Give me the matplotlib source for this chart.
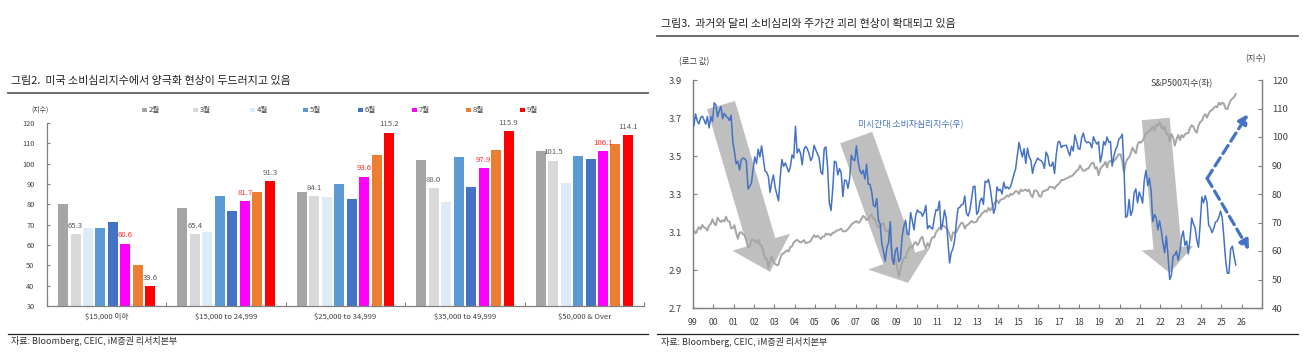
import numpy as np
import matplotlib
matplotlib.use("Agg")
import matplotlib.pyplot as plt
from matplotlib.patches import Polygon, Rectangle
from matplotlib.lines import Line2D

plt.rcParams['font.family'] = ['Noto Sans CJK KR', 'DejaVu Sans']

W, H = 1307, 358

# ---------------- Left chart data ----------------
income_groups = ["$15,000 이하", "$15,000 to 24,999", "$25,000 to 34,999",
                 "$35,000 to 49,999", "$50,000 & Over"]
month_names = ["2월", "3월", "4월", "5월", "6월", "7월", "8월", "9월"]
feb = [80.0, 78.1, 86.3, 101.9, 106.0]
mar = [65.3, 65.4, 84.1, 88.0, 101.5]
apr = [68.3, 66.6, 83.5, 81.1, 90.7]
may = [68.5, 84.2, 90.1, 103.5, 104.0]
jun = [71.1, 76.9, 82.7, 88.3, 102.3]
jul = [60.6, 81.7, 93.6, 97.9, 106.1]
aug = [50.0, 86.3, 104.4, 106.8, 109.8]
sep = [39.6, 91.3, 115.2, 115.9, 114.1]
month_colors = ["#A5A5A5", "#D9D9D9", "#DDEBF7", "#5B9BD5",
                "#4472C4", "#FF00FF", "#ED7D31", "#FF0000"]
left_yticks = list(range(30, 121, 10))

# ---------------- Right chart data ----------------
years = list(range(1999, 2027))
year_labels = [f"{y % 100:02d}" for y in years]
right_left_ticks = [2.7, 2.9, 3.1, 3.3, 3.5, 3.7, 3.9]
right_right_ticks = list(range(40, 121, 10))

# University of Michigan consumer sentiment, monthly from 1999-01
sentiment = [
    103.9, 108.1, 105.7, 104.6, 106.8, 107.3, 106.0, 104.5, 107.2, 103.2, 107.2, 105.4,
    112.0, 111.3, 107.1, 109.2, 110.7, 106.4, 108.3, 107.3, 106.8, 105.8, 107.6, 98.4,
    94.7, 90.6, 91.5, 88.4, 92.0, 92.6, 92.4, 91.5, 81.8, 82.7, 83.9, 88.8,
    93.0, 90.7, 95.7, 93.0, 96.9, 92.4, 88.1, 87.6, 86.1, 80.6, 84.2, 86.7,
    82.4, 79.9, 77.6, 86.0, 92.1, 89.7, 90.9, 89.3, 87.7, 89.6, 93.7, 92.6,
    103.8, 94.4, 95.8, 94.2, 90.2, 95.6, 96.7, 95.9, 94.2, 91.7, 92.8, 97.1,
    95.5, 94.1, 92.6, 87.7, 86.9, 96.0, 96.5, 89.1, 76.9, 74.2, 81.6, 91.5,
    91.2, 86.7, 88.9, 87.4, 79.1, 84.9, 84.7, 82.0, 85.4, 93.6, 92.1, 91.7,
    96.9, 91.3, 88.4, 87.1, 88.3, 85.3, 90.4, 83.4, 83.4, 80.9, 76.1, 75.5,
    78.4, 70.8, 69.5, 62.6, 59.8, 56.4, 61.2, 63.0, 70.3, 57.6, 55.3, 60.1,
    61.2, 56.3, 57.3, 65.1, 68.7, 70.8, 66.0, 65.7, 73.5, 70.6, 67.4, 72.5,
    74.4, 73.6, 73.6, 72.2, 73.6, 76.0, 67.8, 68.9, 68.2, 67.7, 71.6, 74.5,
    74.2, 77.5, 67.5, 69.8, 74.3, 71.5, 63.7, 55.8, 59.5, 60.8, 63.7, 69.9,
    75.0, 75.3, 76.2, 76.4, 79.3, 73.2, 72.3, 74.3, 78.3, 82.6, 82.7, 72.9,
    73.8, 77.6, 78.6, 76.4, 84.5, 84.1, 85.1, 82.1, 77.5, 73.2, 75.1, 82.5,
    81.2, 81.6, 80.0, 84.1, 81.9, 82.5, 81.8, 82.5, 84.6, 86.9, 88.8, 93.6,
    98.1, 95.4, 93.0, 95.9, 90.7, 96.1, 93.1, 91.9, 87.2, 90.0, 91.3, 92.6,
    92.0, 91.7, 91.0, 89.0, 94.7, 93.5, 90.0, 89.8, 91.2, 87.2, 93.8, 98.2,
    98.5, 96.3, 96.9, 97.0, 97.1, 95.1, 93.4, 96.8, 95.1, 100.7, 98.5, 95.9,
    95.7, 99.7, 101.4, 98.8, 98.0, 98.2, 97.9, 96.2, 100.1, 98.6, 97.5, 98.3,
    91.2, 93.8, 98.4, 97.2, 100.0, 98.2, 98.4, 89.8, 93.2, 95.5, 96.8, 99.3,
    99.8, 101.0, 89.1, 71.8, 72.3, 78.1, 72.5, 74.1, 80.4, 81.8, 76.9, 80.7,
    79.0, 76.8, 84.9, 88.3, 82.9, 85.5, 81.2, 70.3, 72.8, 71.7, 67.4, 70.6,
    67.2, 62.8, 59.4, 65.2, 58.4, 50.0, 51.5, 58.2, 58.6, 59.9, 56.8, 59.7,
    64.9, 67.0, 62.0, 63.5, 59.0, 64.4, 71.6, 69.5, 68.1, 63.8, 61.3, 69.7,
    79.0, 76.9, 79.4, 77.2, 69.1, 68.2, 66.4, 67.9, 70.1, 70.5, 71.8, 74.0,
    71.7, 64.7, 57.0, 52.2, 52.2, 60.7, 61.7, 58.2, 55.1,
]

# S&P 500 month-end level, from 1999-01
sp500 = [
    1279.6, 1238.3, 1286.4, 1335.2, 1301.8, 1372.7, 1328.7, 1320.4, 1282.7, 1362.9, 1388.9, 1469.3,
    1394.5, 1366.4, 1498.6, 1452.4, 1420.6, 1454.6, 1430.8, 1517.7, 1436.5, 1429.4, 1315.2, 1320.3,
    1366.0, 1239.9, 1160.3, 1249.5, 1255.8, 1224.4, 1211.2, 1133.6, 1040.9, 1059.8, 1139.5, 1148.1,
    1130.2, 1106.7, 1147.4, 1076.9, 1067.1, 989.8, 911.6, 916.1, 815.3, 885.8, 936.3, 879.8,
    855.7, 841.2, 848.2, 916.9, 963.6, 974.5, 990.3, 1008.0, 996.0, 1050.7, 1058.2, 1111.9,
    1131.1, 1144.9, 1126.2, 1107.3, 1120.7, 1140.8, 1101.7, 1104.2, 1114.6, 1130.2, 1173.8, 1211.9,
    1181.3, 1203.6, 1180.6, 1156.9, 1191.5, 1191.3, 1234.2, 1220.3, 1228.8, 1207.0, 1249.5, 1248.3,
    1280.1, 1280.7, 1294.9, 1310.6, 1270.1, 1270.2, 1276.7, 1303.8, 1335.9, 1377.9, 1400.6, 1418.3,
    1438.2, 1406.8, 1420.9, 1482.4, 1530.6, 1503.4, 1455.3, 1474.0, 1526.8, 1549.4, 1481.1, 1468.4,
    1378.6, 1330.6, 1322.7, 1385.6, 1400.4, 1280.0, 1267.4, 1282.8, 1166.4, 968.8, 896.2, 903.3,
    825.9, 735.1, 797.9, 872.8, 919.1, 919.3, 987.5, 1020.6, 1057.1, 1036.2, 1095.6, 1115.1,
    1073.9, 1104.5, 1169.4, 1186.7, 1089.4, 1030.7, 1101.6, 1049.3, 1141.2, 1183.3, 1180.6, 1257.6,
    1286.1, 1327.2, 1325.8, 1363.6, 1345.2, 1320.6, 1292.3, 1218.9, 1131.4, 1253.3, 1247.0, 1257.6,
    1312.4, 1365.7, 1408.5, 1397.9, 1310.3, 1362.2, 1379.3, 1406.6, 1440.7, 1412.2, 1416.2, 1426.2,
    1498.1, 1514.7, 1569.2, 1597.6, 1630.7, 1606.3, 1685.7, 1633.0, 1681.6, 1756.5, 1805.8, 1848.4,
    1782.6, 1859.5, 1872.3, 1883.9, 1923.6, 1960.2, 1930.7, 2003.4, 1972.3, 2018.1, 2067.6, 2058.9,
    1995.0, 2104.5, 2067.9, 2085.5, 2107.4, 2063.1, 2103.8, 1972.2, 1920.0, 2079.4, 2080.4, 2043.9,
    1940.2, 1932.2, 2059.7, 2065.3, 2097.0, 2098.9, 2173.6, 2171.0, 2168.3, 2126.2, 2198.8, 2238.8,
    2278.9, 2363.6, 2362.7, 2384.2, 2411.8, 2423.4, 2470.3, 2471.7, 2519.4, 2575.3, 2647.6, 2673.6,
    2823.8, 2713.8, 2640.9, 2648.1, 2705.3, 2718.4, 2816.3, 2901.5, 2914.0, 2711.7, 2760.2, 2506.9,
    2704.1, 2784.5, 2834.4, 2945.8, 2752.1, 2941.8, 2980.4, 2926.5, 2976.7, 3037.6, 3141.0, 3230.8,
    3225.5, 2954.2, 2584.6, 2912.4, 3044.3, 3100.3, 3271.1, 3500.3, 3363.0, 3270.0, 3621.6, 3756.1,
    3714.2, 3811.2, 3972.9, 4181.2, 4204.1, 4297.5, 4395.3, 4522.7, 4307.5, 4605.4, 4567.0, 4766.2,
    4515.6, 4373.9, 4530.4, 4131.9, 4132.2, 3785.4, 4130.3, 3955.0, 3585.6, 3872.0, 4080.1, 3839.5,
    4076.6, 3970.2, 4109.3, 4169.5, 4179.8, 4450.4, 4589.0, 4507.7, 4288.1, 4193.8, 4567.8, 4769.8,
    4845.7, 5096.3, 5254.4, 5035.7, 5277.5, 5460.5, 5522.3, 5648.4, 5762.5, 5705.5, 6032.4, 5881.6,
    6040.5, 5954.5, 5611.9, 5569.1, 5911.7, 6205.0, 6339.4, 6460.3, 6688.5,
]

# ---------------- helpers ----------------
def fx(x):
    return x / W

def fy(y):
    return 1 - y / H

fig = plt.figure(figsize=(W / 100, H / 100), dpi=100)
fig.patch.set_facecolor("white")

TXT = "#404040"
SPINE = "#808080"

# ================= LEFT PANEL =================
fig.text(fx(11), fy(81), "그림2.  미국 소비심리지수에서 양극화 현상이 두드러지고 있음",
         fontsize=7.9, va="center", ha="left", color="#202020")
fig.add_artist(Line2D([fx(8), fx(648)], [fy(93), fy(93)], color="#606060", lw=1.3))
fig.add_artist(Line2D([fx(8), fx(648)], [fy(333.5), fy(333.5)], color="#202020", lw=0.9))
fig.text(fx(11), fy(341), "자료: Bloomberg, CEIC, iM증권 리서치본부",
         fontsize=6.5, va="center", ha="left", color="#303030")

ax1 = fig.add_axes([fx(47), fy(306), (644 - 47) / W, (306 - 123) / H])
series = [feb, mar, apr, may, jun, jul, aug, sep]
xg = np.arange(len(income_groups))
pitch = 0.1044
bw = 0.084
for j, (vals, col) in enumerate(zip(series, month_colors)):
    ax1.bar(xg + (j - 3.5) * pitch, vals, width=bw, color=col, zorder=2)

label_months = [(1, "#595959"), (5, "#FF2A2A"), (7, "#595959")]
for j, col in label_months:
    for i, v in enumerate(series[j]):
        ax1.annotate(f"{v:.1f}", (xg[i] + (j - 3.5) * pitch, v), xytext=(0, 6),
                     textcoords="offset points", ha="center", va="center",
                     fontsize=5.6, color=col, zorder=5)

ax1.set_xlim(-0.5, len(income_groups) - 0.5)
ax1.set_ylim(30, 120)
ax1.set_yticks(left_yticks)
ax1.set_xticks(np.arange(-0.5, len(income_groups), 1.0))
ax1.set_xticklabels([])
ax1.set_xticks(xg, minor=True)
ax1.set_xticklabels(income_groups, minor=True)
ax1.tick_params(axis="x", which="major", direction="in", length=3, color=SPINE)
ax1.tick_params(axis="x", which="minor", length=0, pad=4.5, labelsize=5.5, labelcolor=TXT)
ax1.tick_params(axis="y", direction="in", length=2.5, color=SPINE, pad=9,
                labelsize=5.3, labelcolor=TXT)
for s in ["top", "right"]:
    ax1.spines[s].set_visible(False)
for s in ["left", "bottom"]:
    ax1.spines[s].set_color(SPINE)
    ax1.spines[s].set_linewidth(0.9)
fig.text(fx(40), fy(110), "(지수)", fontsize=5, ha="center", va="center", color=TXT)

# manual legend
leg_x = [142, 193, 250, 303, 358, 412, 466, 520]
for lx, name, col in zip(leg_x, month_names, month_colors):
    fig.add_artist(Rectangle((fx(lx), fy(112)), 5 / W, 4 / H, transform=fig.transFigure,
                             facecolor=col, edgecolor="none"))
    fig.text(fx(lx + 7), fy(110), name, fontsize=5.5, ha="left", va="center", color=TXT)

# ================= RIGHT PANEL =================
fig.text(fx(661), fy(24), "그림3.  과거와 달리 소비심리와 주가간 괴리 현상이 확대되고 있음",
         fontsize=7.9, va="center", ha="left", color="#202020")
fig.add_artist(Line2D([fx(657), fx(1298)], [fy(36), fy(36)], color="#606060", lw=1.3))
fig.add_artist(Line2D([fx(657), fx(1298)], [fy(334), fy(334)], color="#202020", lw=0.9))
fig.text(fx(661), fy(342), "자료: Bloomberg, CEIC, iM증권 리서치본부",
         fontsize=6.5, va="center", ha="left", color="#303030")

ax2 = fig.add_axes([fx(693), fy(308), (1262 - 693) / W, (308 - 80) / H])
ax2.set_xlim(1999, 2027)
ax2.set_ylim(2.7, 3.9)
ax2r = ax2.twinx()
ax2r.set_ylim(40, 120)

t_sent = 1999 + (np.arange(len(sentiment)) + 0.5) / 12
t_sp = 1999 + (np.arange(len(sp500)) + 0.5) / 12

ax2.plot(t_sp, np.log10(sp500), color="#A5A5A5", lw=1.4, zorder=3)
ax2r.plot(t_sent, sentiment, color="#4472C4", lw=1.1, zorder=3)

# big gray trend arrows (display-space polygons anchored on data points)
def gray_arrow(ax, tail, tip, sw, hw, hl):
    T = ax.transData.transform(tail)
    P = ax.transData.transform(tip)
    d = (P - T) / np.hypot(*(P - T))
    n = np.array([-d[1], d[0]])
    B = P - d * hl
    pts = [T + n * sw / 2, B + n * sw / 2, B + n * hw / 2, P,
           B - n * hw / 2, B - n * sw / 2, T - n * sw / 2]
    pts = fig.transFigure.inverted().transform(np.array(pts))
    ax.add_patch(Polygon(pts, closed=True, transform=fig.transFigure,
                         facecolor="#BFBFBF", edgecolor="none", zorder=1))

gray_arrow(ax2, (2000.38, 3.768), (2002.79, 2.89), 29, 60, 31)
gray_arrow(ax2, (2007.03, 3.597), (2009.58, 2.832), 34, 66, 26)
gray_arrow(ax2, (2021.77, 3.695), (2022.46, 2.884), 28, 52, 25)

# blue dashed divergence arrows
for tip in [(2026.31, 108.0), (2026.36, 60.4)]:
    ax2r.annotate("", xy=tip, xytext=(2024.3, 85.5),
                  arrowprops=dict(arrowstyle="-|>,head_length=0.55,head_width=0.3",
                                  color="#4472C4", lw=2.3, linestyle=(0, (3, 1.6)),
                                  shrinkA=0, shrinkB=0), zorder=4)

ax2.set_xticks(years)
ax2.set_xticklabels(year_labels)
ax2.set_yticks(right_left_ticks)
ax2.set_yticklabels([f"{v:.1f}" for v in right_left_ticks])
ax2r.set_yticks(right_right_ticks)
ax2.tick_params(axis="x", direction="in", length=3, color=SPINE, pad=7,
                labelsize=6.3, labelcolor=TXT)
ax2.tick_params(axis="y", direction="in", length=3, color=SPINE, pad=8,
                labelsize=6.8, labelcolor=TXT)
ax2r.tick_params(axis="y", direction="in", length=3, color=SPINE, pad=7,
                 labelsize=6.8, labelcolor=TXT)
for a in (ax2, ax2r):
    a.spines["top"].set_visible(False)
    for s in ["left", "bottom", "right"]:
        a.spines[s].set_color(SPINE)
        a.spines[s].set_linewidth(0.9)

fig.text(fx(694), fy(62), "(로그 값)", fontsize=6, ha="center", va="center", color=TXT)
fig.text(fx(1256), fy(59), "(지수)", fontsize=6, ha="center", va="center", color=TXT)
fig.text(fx(1182), fy(84), "S&P500지수(좌)", fontsize=6.4, ha="center", va="center", color="#404040")
fig.text(fx(911), fy(125), "미시간대 소비자심리지수(우)", fontsize=6.4, ha="center",
         va="center", color="#4472C4")

fig.savefig("out.png", dpi=100, facecolor="white")
